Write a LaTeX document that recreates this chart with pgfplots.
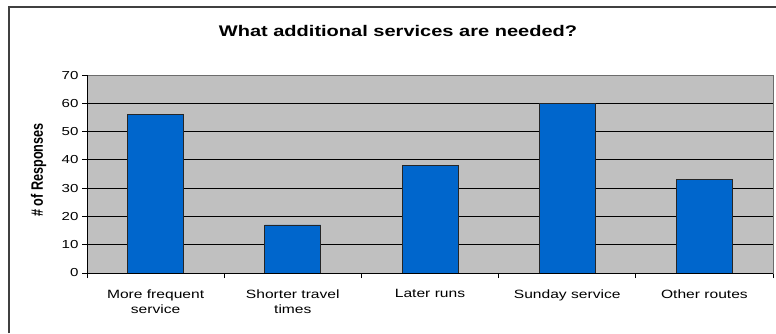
\documentclass[border=0pt]{standalone}
\usepackage{fontspec}
\setmainfont{Liberation Sans}[FakeStretch=1.3]
\newfontfamily\ylabfont{Liberation Sans}
\usepackage{pgfplots}
\pgfplotsset{compat=1.18}
\definecolor{plotbg}{HTML}{C0C0C0}
\definecolor{barblue}{HTML}{0066CC}
\definecolor{framegray}{HTML}{404040}
\begin{document}
\begin{tikzpicture}[x=1bp,y=1bp]
\useasboundingbox (0,0) rectangle (776,333);
\fill[white] (0,0) rectangle (776,333);
\draw[framegray, line width=1.2bp] (9,0) -- (9,326) -- (777,326);
\node[anchor=base, font=\bfseries\fontsize{15.4bp}{18bp}\selectfont] at (398,297) {What additional services are needed?};
\begin{scope}[shift={(38.5,163)}, rotate=90, yscale=1.3]
\node[anchor=center, transform shape, inner sep=0pt, font=\ylabfont\bfseries\fontsize{12.7bp}{15bp}\selectfont] at (0,0) {\# of Responses};
\end{scope}
\begin{axis}[name=ax, at={(87bp,60bp)}, anchor=south west, scale only axis,
  width=686bp, height=198bp,
  xmin=-0.5, xmax=4.5, ymin=0, ymax=70,
  ytick={0,10,...,70},
  xtick={-0.5,0.5,...,4.5}, xticklabels={},
  extra x ticks={0,1,2,3,4},
  extra x tick labels={More frequent\\service, Shorter travel\\times, Later runs, Sunday service, Other routes},
  extra x tick style={major tick length=0pt, xticklabel style={yshift=-13bp}},
  xticklabel style={align=center, font=\fontsize{12bp}{15.5bp}\selectfont, anchor=north},
  yticklabel style={font=\fontsize{11.6bp}{14bp}\selectfont, /pgf/number format/assume math mode=true},
  /pgf/number format/assume math mode=true,
  tick align=outside, major tick length=5bp,
  xtick pos=bottom, ytick pos=left,
  tick style={black, line width=0.8bp},
  ymajorgrids, grid style={black, line width=0.8bp},
  axis line style={draw=gray!85!black, line width=0.8bp},
  axis background/.style={fill=plotbg},
  ybar, bar width=56bp,
  enlarge x limits=false,
]
\addplot[fill=barblue, draw=black!85, line width=0.8bp] coordinates {(0,56) (1,17) (2,38) (3,60) (4,33)};
\end{axis}
\draw[black, line width=0.8bp] (ax.south west) -- (ax.north west);
\draw[black, line width=0.8bp] (ax.south west) -- (ax.south east);
\end{tikzpicture}
\end{document}
